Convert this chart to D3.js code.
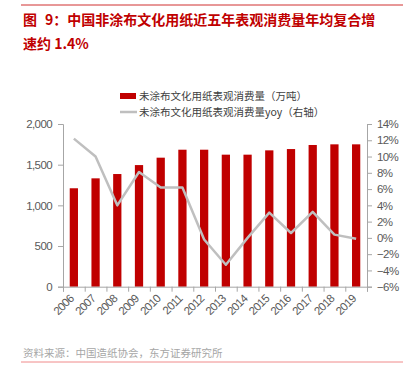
<!DOCTYPE html>
<html>
<head>
<meta charset="utf-8">
<script src="https://cdn.jsdelivr.net/npm/d3@7"></script>
<style>
    body { margin: 0; background: #fff; }
    svg text { font-family: "Liberation Sans", Arial, "Noto Sans CJK SC", sans-serif; }
    .cjk { font-family: "Noto Sans CJK SC", sans-serif; }
</style>
</head>
<body>
<div id="chart"></div>
<script>
const years = ["2006", "2007", "2008", "2009", "2010", "2011", "2012", "2013", "2014", "2015", "2016", "2017", "2018", "2019"];
const consumption = [1210, 1332, 1385, 1495, 1586, 1684, 1684, 1623, 1623, 1676, 1692, 1742, 1750, 1750];
const yoy = [12.2, 10.0, 4.0, 8.1, 6.2, 6.2, -0.2, -3.3, 0.0, 3.1, 0.6, 3.2, 0.4, -0.1];
const leftTicks = [0, 500, 1000, 1500, 2000];
const rightTicks = [-6, -4, -2, 0, 2, 4, 6, 8, 10, 12, 14];

const W = 414, H = 375;
const margin = {top: 124, right: 47, bottom: 88, left: 63};
const innerW = W - margin.left - margin.right;
const innerH = 286.7 - margin.top;
const red = "#c00000";
const axisColor = "#a6a6a6";
const labelColor = "#595959";

const svg = d3.select("#chart").append("svg")
    .attr("width", W)
    .attr("height", H);

// header / footer rules
svg.append("line").attr("x1", 21).attr("x2", 403).attr("y1", 5).attr("y2", 5)
    .attr("stroke", "#d03030").attr("stroke-width", 1);
svg.append("line").attr("x1", 21).attr("x2", 403).attr("y1", 362).attr("y2", 362)
    .attr("stroke", "#f08a8a").attr("stroke-width", 1);

const title = svg.append("text").attr("class", "cjk")
    .attr("x", 23).attr("y", 25)
    .attr("font-size", 14).attr("font-weight", "bold").attr("fill", red);
title.append("tspan").text("图");
title.append("tspan").attr("dx", 8).text("9：中国非涂布文化用纸近五年表观消费量年均复合增");
svg.append("text").attr("class", "cjk")
    .attr("x", 23).attr("y", 49)
    .attr("font-size", 14).attr("font-weight", "bold").attr("fill", red)
    .text("速约 1.4%");

svg.append("text").attr("class", "cjk")
    .attr("x", 23).attr("y", 357)
    .attr("font-size", 10.5).attr("fill", "#a6a6a6")
    .text("资料来源：中国造纸协会，东方证券研究所");

const g = svg.append("g").attr("transform", `translate(${margin.left},${margin.top})`);

const x = d3.scaleBand().domain(years).range([0, innerW]).paddingInner(0.62).paddingOuter(0.31);
const xOuter = d3.scaleBand().domain(years).range([0, innerW]);
const yL = d3.scaleLinear().domain([0, 2000]).range([innerH, 0]);
const yR = d3.scaleLinear().domain([-6, 14]).range([innerH, 0]);

// bars
g.selectAll("rect.bar").data(years)
    .join("rect")
    .attr("class", "bar")
    .attr("x", d => x(d))
    .attr("width", x.bandwidth())
    .attr("y", (d, i) => yL(consumption[i]))
    .attr("height", (d, i) => innerH - yL(consumption[i]))
    .attr("fill", red);

// yoy line
const line = d3.line()
    .x((d, i) => xOuter(years[i]) + xOuter.bandwidth() / 2)
    .y(d => yR(d));
g.append("path").datum(yoy)
    .attr("d", line)
    .attr("fill", "none")
    .attr("stroke", "#bfbfbf")
    .attr("stroke-width", 2.5)
    .attr("stroke-linejoin", "round");

// left axis
const axL = g.append("g")
    .call(d3.axisLeft(yL).tickValues(leftTicks).tickSize(5).tickPadding(6).tickFormat(d3.format(",")));
// right axis
const axR = g.append("g").attr("transform", `translate(${innerW},0)`)
    .call(d3.axisRight(yR).tickValues(rightTicks).tickSize(5).tickPadding(5)
        .tickFormat(d => (d < 0 ? "\u2212" + Math.abs(d) : d) + "%"));
// bottom axis with ticks between categories
const xTickScale = d3.scaleLinear().domain([0, years.length]).range([0, innerW]);
const axB = g.append("g").attr("transform", `translate(0,${innerH})`)
    .call(d3.axisBottom(xTickScale).tickValues(d3.range(0, years.length + 1)).tickSize(5).tickFormat(""));

[axL, axR, axB].forEach(ax => {
    ax.select(".domain").attr("stroke", axisColor);
    ax.selectAll(".tick line").attr("stroke", axisColor);
    ax.selectAll("text").attr("fill", labelColor).attr("font-size", 11.5).style("letter-spacing", "-0.6px");
});

// rotated year labels
g.append("g").selectAll("text.year").data(years)
    .join("text")
    .attr("class", "year")
    .attr("transform", d => `translate(${xOuter(d) + xOuter.bandwidth() / 2 - 5},${innerH + 7}) rotate(-45)`)
    .attr("text-anchor", "end")
    .attr("dy", "0.7em")
    .attr("font-size", 11.5)
    .style("letter-spacing", "-0.6px")
    .attr("fill", labelColor)
    .text(d => d);

// legend
const lg = svg.append("g").attr("transform", "translate(120,96)");
lg.append("rect").attr("x", 0).attr("y", -3).attr("width", 16).attr("height", 6).attr("fill", red);
lg.append("text").attr("class", "cjk").attr("x", 19).attr("y", 0).attr("dy", "0.35em")
    .attr("font-size", 10.5).attr("fill", "#404040")
    .text("未涂布文化用纸表观消费量（万吨）");
lg.append("line").attr("x1", 0).attr("x2", 17).attr("y1", 16).attr("y2", 16)
    .attr("stroke", "#bfbfbf").attr("stroke-width", 2.5);
lg.append("text").attr("class", "cjk").attr("x", 19).attr("y", 16).attr("dy", "0.35em")
    .attr("font-size", 10.5).attr("fill", "#404040")
    .text("未涂布文化用纸表观消费量yoy（右轴）");
</script>
</body>
</html>
